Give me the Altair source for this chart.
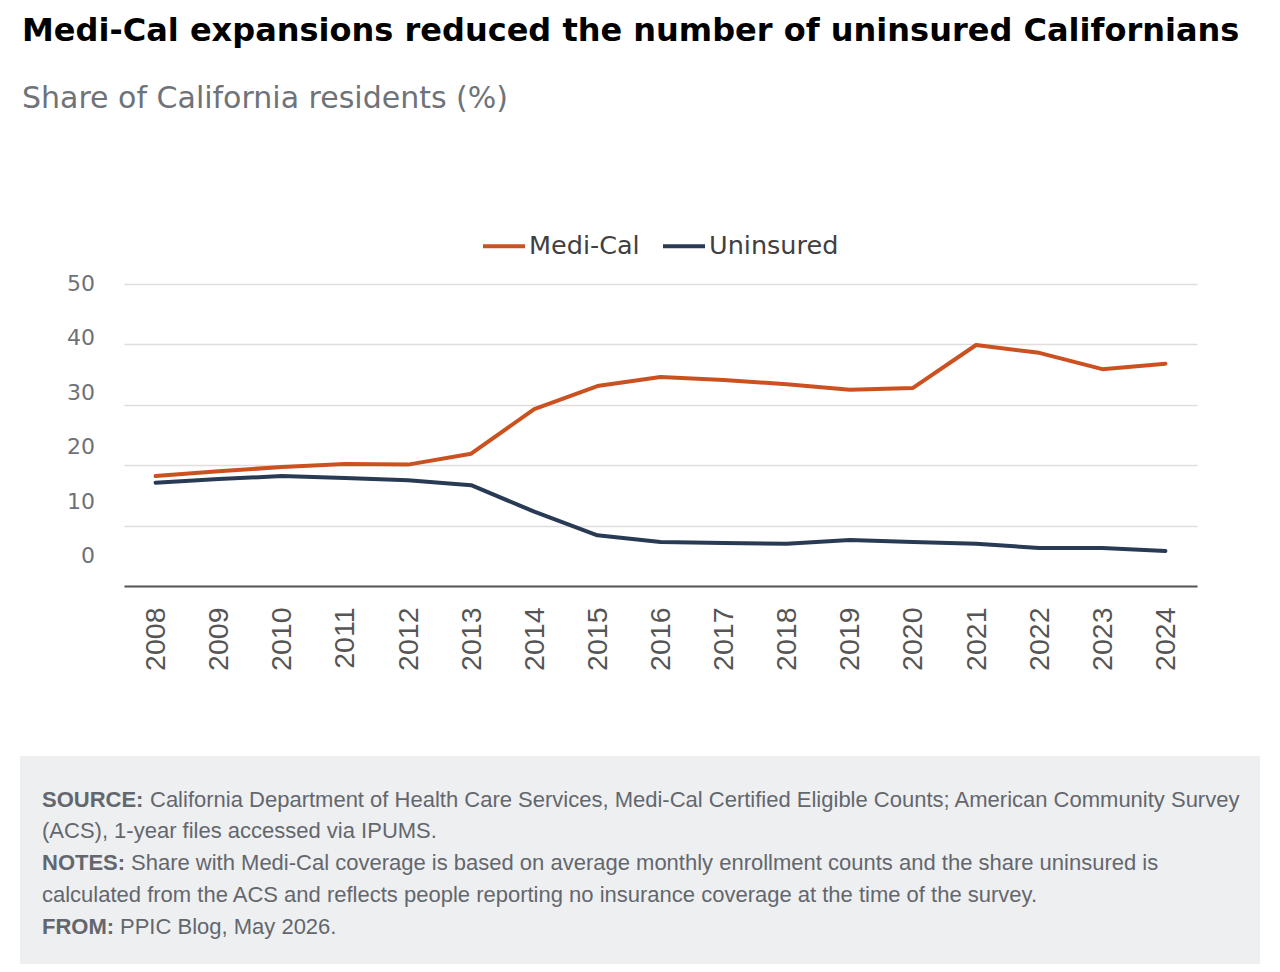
import altair as alt
import pandas as pd

years = [str(y) for y in range(2008, 2025)]
medi_cal = [18.2, 19.0, 19.7, 20.2, 20.1, 21.9, 29.3, 33.1, 34.6, 34.1, 33.4, 32.5, 32.8, 39.9, 38.6, 35.9, 36.8]
uninsured = [17.1, 17.7, 18.2, 17.9, 17.5, 16.7, 12.3, 8.4, 7.3, 7.1, 7.0, 7.6, 7.3, 7.0, 6.3, 6.3, 5.8]
series_names = ["Medi-Cal", "Uninsured"]
series_colors = ["#CB5120", "#283A54"]
y_ticks = [0, 10, 20, 30, 40, 50]

title_text = "Medi-Cal expansions reduced the number of uninsured Californians"
subtitle_text = "Share of California residents (%)"
footer_bold = ["SOURCE:", "", "NOTES:", "", "FROM:"]
footer_regular = [
    "California Department of Health Care Services, Medi-Cal Certified Eligible Counts; American Community Survey",
    "(ACS), 1-year files accessed via IPUMS.",
    "Share with Medi-Cal coverage is based on average monthly enrollment counts and the share uninsured is",
    "calculated from the ACS and reflects people reporting no insurance coverage at the time of the survey.",
    "PPIC Blog, May 2026.",
]
footer_regular_x = [150, 42, 131, 42, 120]
footer_y = [800, 831, 863, 895, 927]

W, H = 1073, 302
L, T = 124, 284

rows = []
for i, yr in enumerate(years):
    rows.append({"year": yr, "series": "Medi-Cal", "value": medi_cal[i]})
    rows.append({"year": yr, "series": "Uninsured", "value": uninsured[i]})
df = pd.DataFrame(rows)

HEAD = "DejaVu Sans"
BODY = "Liberation Sans"

lines = alt.Chart(df).mark_line(strokeWidth=4, strokeCap="round", strokeJoin="round").encode(
    x=alt.X("year:O", sort=years, scale=alt.Scale(type="point", padding=0.5),
            axis=alt.Axis(title=None, labelAngle=270, labelFont=BODY, labelFontSize=28.5,
                          labelColor="#555555", ticks=False, tickSize=0, labelPadding=21,
                          domainColor="#555555", domainWidth=2, grid=False)),
    y=alt.Y("value:Q", scale=alt.Scale(domain=[0, 50]),
            axis=alt.Axis(title=None, values=y_ticks, labels=False, ticks=False, domain=False,
                          grid=True, gridColor="#DEDEDE", gridWidth=1.5)),
    color=alt.Color("series:N", sort=series_names,
                    scale=alt.Scale(domain=series_names, range=series_colors),
                    legend=alt.Legend(title=None, orient="none", legendX=357, legendY=-61,
                                      direction="horizontal", symbolType="stroke",
                                      symbolSize=1764, symbolStrokeWidth=4,
                                      labelFont=HEAD, labelFontSize=25.5, labelColor="#404040",
                                      labelOffset=2, columnPadding=15)),
)

ylabels = alt.Chart(pd.DataFrame({"v": y_ticks})).mark_text(
    align="right", baseline="middle", font=HEAD, fontSize=22, color="#6E7278"
).encode(
    y=alt.Y("v:Q", scale=alt.Scale(domain=[0, 50], range=[272, 0]), axis=None),
    x=alt.value(95 - L),
    text="v:Q",
)

title = alt.Chart(pd.DataFrame({"t": [title_text]})).mark_text(
    align="left", baseline="middle", font=HEAD, fontSize=32, fontWeight="bold", color="#000000"
).encode(text="t:N", x=alt.value(22 - L), y=alt.value(31 - T))

subtitle = alt.Chart(pd.DataFrame({"t": [subtitle_text]})).mark_text(
    align="left", baseline="middle", font=HEAD, fontSize=30, color="#6E737A"
).encode(text="t:N", x=alt.value(22 - L), y=alt.value(99 - T))

footer_bg = alt.Chart(pd.DataFrame({"a": [0]})).mark_rect(color="#EEEFF1").encode(
    x=alt.value(20 - L), x2=alt.value(1260 - L), y=alt.value(756 - T), y2=alt.value(964 - T)
)

layers = [footer_bg, lines, ylabels, title, subtitle]
for i in range(len(footer_regular)):
    if footer_bold[i]:
        layers.append(alt.Chart(pd.DataFrame({"t": [footer_bold[i]]})).mark_text(
            align="left", baseline="middle", font=BODY, fontSize=22, fontWeight="bold", color="#63676D"
        ).encode(text="t:N", x=alt.value(42 - L), y=alt.value(footer_y[i] - T)))
    layers.append(alt.Chart(pd.DataFrame({"t": [footer_regular[i]]})).mark_text(
        align="left", baseline="middle", font=BODY, fontSize=22, color="#63676D"
    ).encode(text="t:N", x=alt.value(footer_regular_x[i] - L), y=alt.value(footer_y[i] - T)))

chart = alt.layer(*layers).resolve_scale(y="independent").properties(
    width=W, height=H,
    autosize=alt.AutoSizeParams(type="none"),
    padding={"left": L, "top": T, "right": 1280 - L - W, "bottom": 972 - T - H},
).configure_view(stroke=None)

chart.save("out.html", embed_options={"renderer": "svg", "actions": False})
